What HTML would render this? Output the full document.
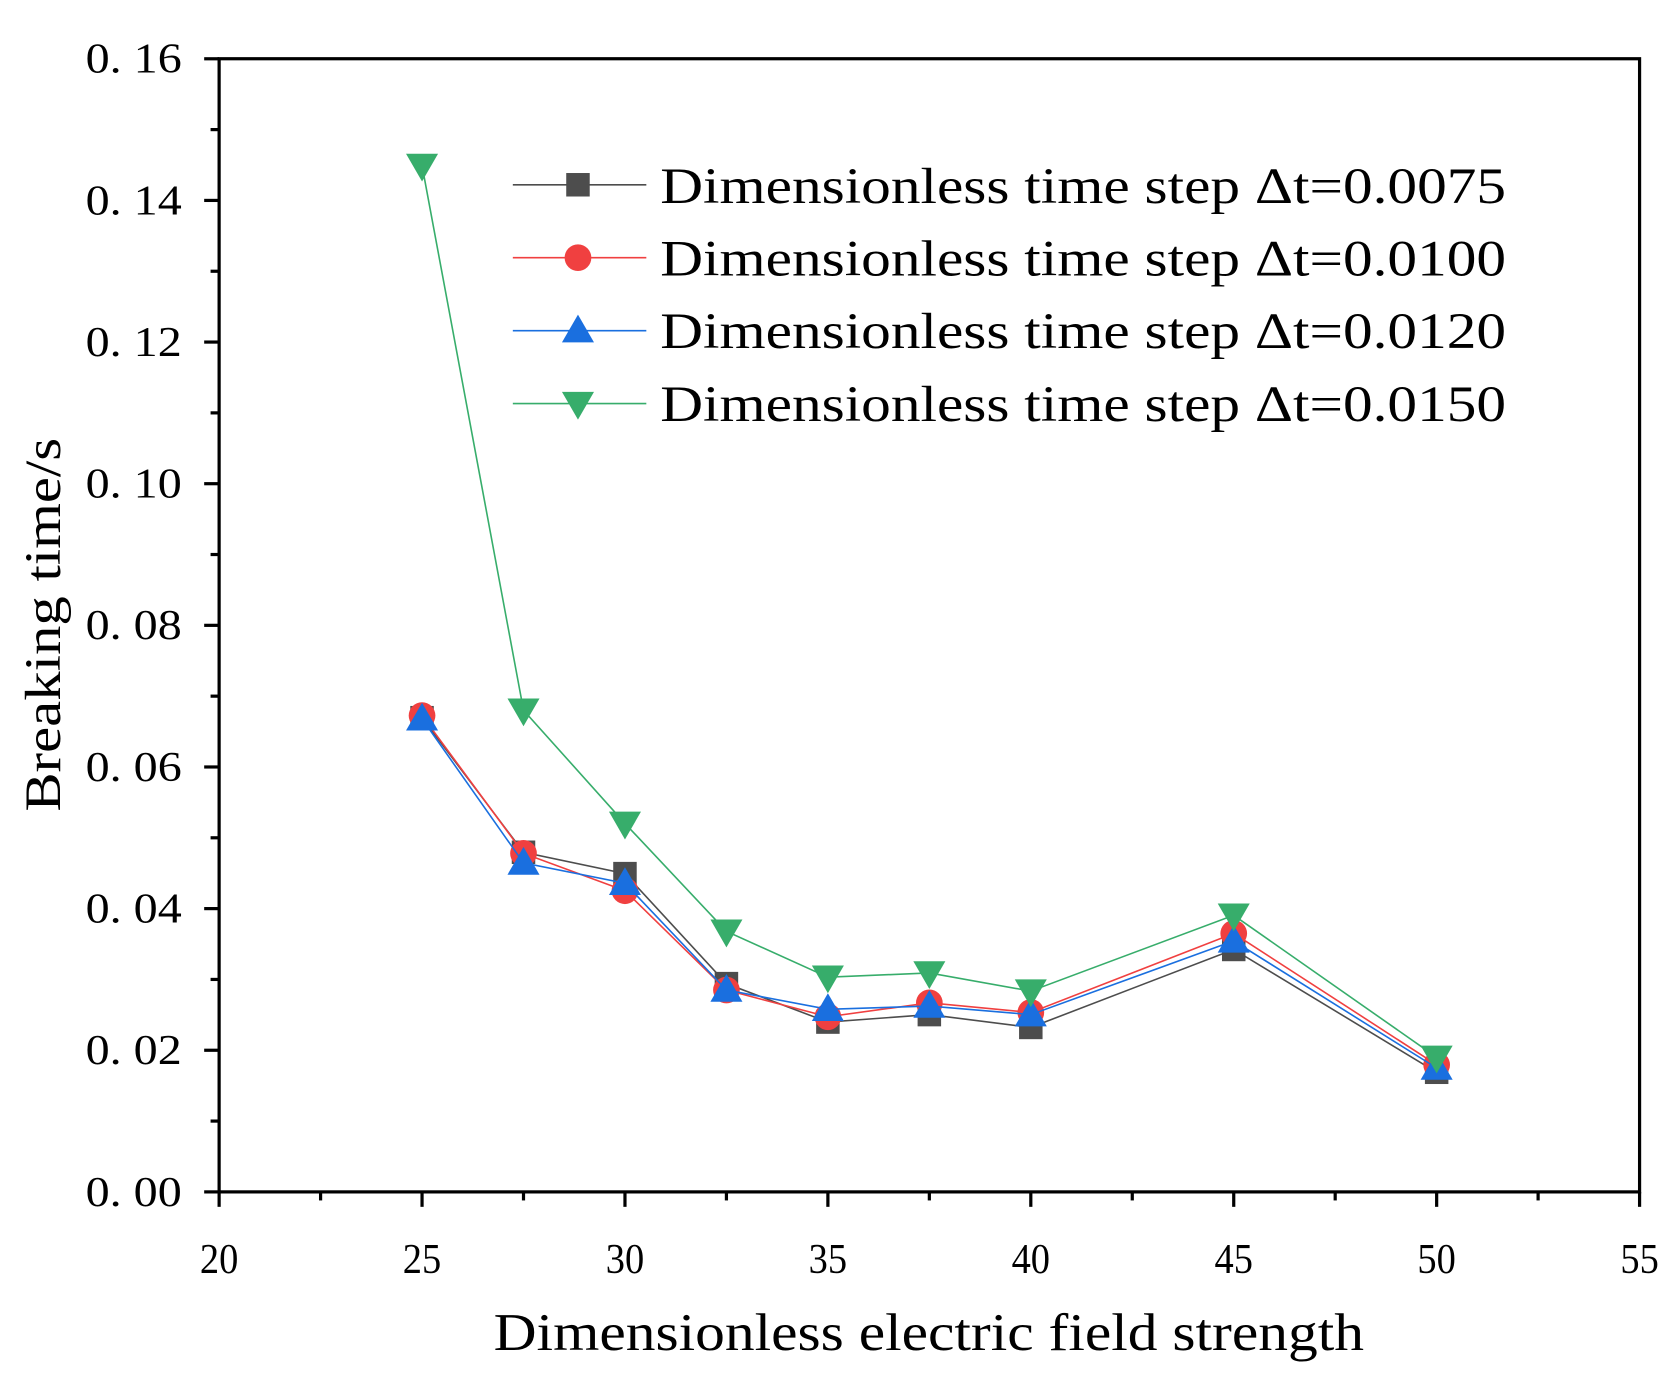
<!DOCTYPE html>
<html><head><meta charset="utf-8"><style>
html,body{margin:0;padding:0;background:#fff;}
svg{display:block;}
text{font-family:"Liberation Serif",serif;fill:#000;}
</style></head><body>
<svg id="s" width="1675" height="1382" viewBox="0 0 1568 1294" xmlns="http://www.w3.org/2000/svg">
<rect width="1568" height="1294" fill="#fff"/>
<g id="g"></g>
<text x="462" y="1264" font-size="50" textLength="815" lengthAdjust="spacingAndGlyphs">Dimensionless electric field strength</text>
<text transform="translate(56,760) rotate(-90)" font-size="48" textLength="350" lengthAdjust="spacingAndGlyphs">Breaking time/s</text>
<g font-size="48">
<text x="618" y="190" textLength="792" lengthAdjust="spacingAndGlyphs">Dimensionless time step Δt=0.0075</text>
<text x="618" y="258" textLength="792" lengthAdjust="spacingAndGlyphs">Dimensionless time step Δt=0.0100</text>
<text x="618" y="326" textLength="792" lengthAdjust="spacingAndGlyphs">Dimensionless time step Δt=0.0120</text>
<text x="618" y="394" textLength="792" lengthAdjust="spacingAndGlyphs">Dimensionless time step Δt=0.0150</text>
</g>
</svg>
<script>
var g=document.getElementById('g'),h='';
function X(e){return 205+38*(e-20);}
function Y(v){return 1116-6631*v;}
h+='<rect x="205" y="55" width="1330" height="1061" fill="none" stroke="#000" stroke-width="3"/>';
for(var i=0;i<=16;i++){var y=Y(i*0.01),maj=i%2==0;h+='<line x1="'+(205-(maj?14:8))+'" y1="'+y+'" x2="205" y2="'+y+'" stroke="#000" stroke-width="3"/>';
 if(maj){var lab='0. '+(i<10?'0':'')+i;h+='<text x="170" y="'+(y+13)+'" font-size="40" text-anchor="end" textLength="90" lengthAdjust="spacingAndGlyphs">'+lab+'</text>';}}
for(var e=20;e<=55;e+=2.5){var x=X(e),maj=(e%5==0);h+='<line x1="'+x+'" y1="1116" x2="'+x+'" y2="'+(1116+(maj?14:8))+'" stroke="#000" stroke-width="3"/>';
 if(maj)h+='<text x="'+x+'" y="1192" font-size="40" text-anchor="middle" textLength="36" lengthAdjust="spacingAndGlyphs">'+e+'</text>';}
var xs=[25,27.5,30,32.5,35,37.5,40,45,50];
var S=[
 ['#4d4d4d','sq',[672,798,818,921,957,950,962,889,1004]],
 ['#f04040','ci',[670,799,834,927,952,939,948,874,997]],
 ['#1a6fdf','up',[673,808,827,927,945,942,950,881,1000]],
 ['#37ad6b','dn',[155,665,771,872,915,911,928,857,990]]];
function mk(t,x,y,c){
 if(t=='sq')return '<rect x="'+(x-11)+'" y="'+(y-11)+'" width="22" height="22" fill="'+c+'"/>';
 if(t=='ci')return '<circle cx="'+x+'" cy="'+y+'" r="12.5" fill="'+c+'"/>';
 if(t=='up')return '<polygon points="'+x+','+(y-15)+' '+(x-15)+','+(y+11)+' '+(x+15)+','+(y+11)+'" fill="'+c+'"/>';
 return '<polygon points="'+x+','+(y+15)+' '+(x-15)+','+(y-11)+' '+(x+15)+','+(y-11)+'" fill="'+c+'"/>';}
S.forEach(function(s,k){var p=xs.map(function(e,i){return X(e)+','+s[2][i];}).join(' ');
 h+='<polyline points="'+p+'" fill="none" stroke="'+s[0]+'" stroke-width="1.5"/>';
 xs.forEach(function(e,i){h+=mk(s[1],X(e),s[2][i],s[0]);});
 var ly=173+k*68.3;h+='<line x1="480" y1="'+ly+'" x2="605" y2="'+ly+'" stroke="'+s[0]+'" stroke-width="1.5"/>'+mk(s[1],541,ly,s[0]);});
g.innerHTML=h;
</script>
</body></html>
